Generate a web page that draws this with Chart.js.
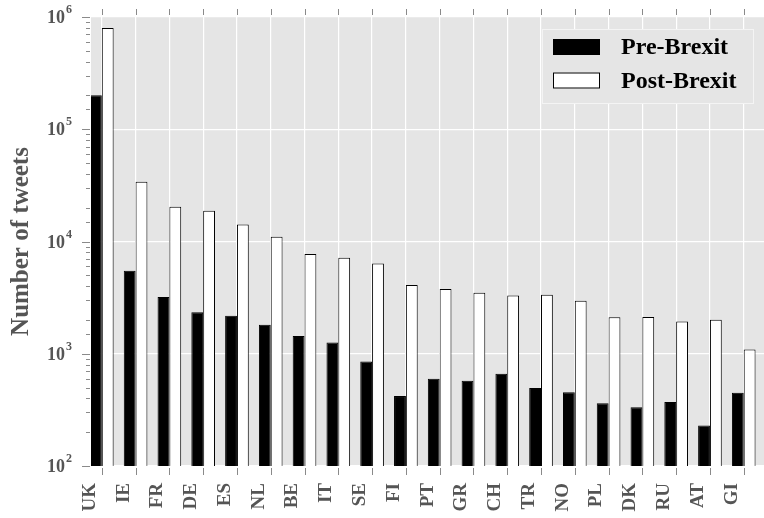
<!DOCTYPE html>
<html>
<head>
<meta charset="utf-8">
<script src="https://cdn.jsdelivr.net/npm/chart.js@4/dist/chart.umd.min.js"></script>
<style>
  html, body { margin: 0; padding: 0; background: #ffffff; }
  #wrap { width: 764px; height: 518px; }
</style>
</head>
<body>
<div id="wrap"><canvas id="chart" width="764" height="518"></canvas></div>
<script>
// Tweets per country, before and after the Brexit referendum
const countries = ['UK', 'IE', 'FR', 'DE', 'ES', 'NL', 'BE', 'IT', 'SE', 'FI',
                   'PT', 'GR', 'CH', 'TR', 'NO', 'PL', 'DK', 'RU', 'AT', 'GI'];
const preBrexit = [201000, 5500, 3200, 2340, 2180, 1810, 1440, 1260, 855, 420,
                   600, 575, 664, 495, 453, 362, 333, 372, 230, 450];
const postBrexit = [800000, 34000, 20400, 18800, 14200, 11000, 7720, 7160, 6380, 4090,
                    3770, 3490, 3310, 3350, 2960, 2110, 2120, 1940, 2010, 1090];
const seriesLabels = ['Pre-Brexit', 'Post-Brexit'];
const yMin = 100;
const yMax = 1000000;

const SERIF = '"Liberation Serif", "Times New Roman", serif';

function isPowerOfTen(v) {
  const l = Math.log10(v);
  return Math.abs(l - Math.round(l)) < 1e-9;
}

// grey panel behind the bars
const panelBackground = {
  id: 'panelBackground',
  beforeDraw(chart) {
    const { ctx, chartArea: a } = chart;
    ctx.save();
    ctx.fillStyle = '#e5e5e5';
    ctx.fillRect(a.left, a.top, a.right - a.left, a.bottom - a.top);
    ctx.restore();
  }
};

// short outward tick marks (major/minor on the log axis, top and bottom on the x axis)
// and the 10^n labels with a raised exponent
const tickMarks = {
  id: 'tickMarks',
  afterDraw(chart) {
    const { ctx, chartArea: a, scales: { x, y } } = chart;
    ctx.save();
    ctx.strokeStyle = '#8a8a8a';
    ctx.lineWidth = 1;
    ctx.beginPath();
    y.ticks.forEach(t => {
      const py = Math.round(y.getPixelForValue(t.value)) + 0.5;
      const len = isPowerOfTen(t.value) ? 8 : 4;
      ctx.moveTo(a.left - 1 - len, py);
      ctx.lineTo(a.left - 1, py);
    });
    x.ticks.forEach(t => {
      const px = Math.round(x.getPixelForValue(t.value)) + 0.5;
      ctx.moveTo(px, a.top - 8);
      ctx.lineTo(px, a.top - 2);
      ctx.moveTo(px, a.bottom + 2);
      ctx.lineTo(px, a.bottom + 9);
    });
    ctx.stroke();

    ctx.fillStyle = '#555555';
    ctx.textAlign = 'right';
    ctx.textBaseline = 'alphabetic';
    const right = a.left - 19;
    y.ticks.filter(t => isPowerOfTen(t.value)).forEach(t => {
      const py = y.getPixelForValue(t.value);
      const exp = String(Math.round(Math.log10(t.value)));
      ctx.font = 'bold 12px ' + SERIF;
      const ew = ctx.measureText(exp).width;
      ctx.fillText(exp, right, py - 4);
      ctx.font = 'bold 18px ' + SERIF;
      ctx.fillText('10', right - ew - 1, py + 6);
    });
    ctx.restore();
  }
};

// boxed legend in the upper right corner of the panel
const boxedLegend = {
  id: 'boxedLegend',
  afterDraw(chart) {
    const { ctx, chartArea: a } = chart;
    const w = 211, h = 74;
    const left = a.right - 11 - w;
    const top = a.top + 12;
    ctx.save();
    ctx.fillStyle = '#e5e5e5';
    ctx.fillRect(left, top, w, h);
    ctx.strokeStyle = '#f4f4f4';
    ctx.lineWidth = 1;
    ctx.strokeRect(left + 0.5, top + 0.5, w, h);
    ctx.font = 'bold 24px ' + SERIF;
    ctx.textBaseline = 'middle';
    ctx.textAlign = 'left';
    const rows = [top + 18, top + 51.5];
    chart.data.datasets.forEach((ds, i) => {
      const cy = rows[i];
      ctx.fillStyle = ds.backgroundColor;
      ctx.fillRect(left + 11, cy - 8, 47, 16);
      ctx.strokeStyle = '#000000';
      ctx.strokeRect(left + 11.5, cy - 7.5, 46, 15);
      ctx.fillStyle = '#000000';
      ctx.fillText(ds.label, left + 79, cy + 1);
    });
    ctx.restore();
  }
};

const ctx = document.getElementById('chart').getContext('2d');
new Chart(ctx, {
  type: 'bar',
  data: {
    datasets: [
      {
        label: seriesLabels[0],
        data: preBrexit.map((v, i) => ({ x: i, y: v })),
        backgroundColor: '#000000',
        borderColor: '#000000',
        borderWidth: 1,
        clip: 0
      },
      {
        label: seriesLabels[1],
        data: postBrexit.map((v, i) => ({ x: i, y: v })),
        backgroundColor: '#ffffff',
        borderColor: '#000000',
        borderWidth: 1,
        clip: 0
      }
    ]
  },
  options: {
    responsive: false,
    animation: false,
    devicePixelRatio: 1,
    categoryPercentage: 0.7,
    barPercentage: 1.0,
    layout: { padding: { top: 17, left: 0, right: 0, bottom: 0 } },
    plugins: {
      legend: { display: false },
      tooltip: { enabled: false }
    },
    scales: {
      x: {
        type: 'linear',
        offset: false,
        bounds: 'data',
        min: -0.32,
        max: 19.6,
        afterBuildTicks(scale) {
          scale.ticks = countries.map((_, i) => ({ value: i }));
        },
        afterFit(scale) {
          scale.height = 52;
          scale.paddingLeft = 0;
          scale.paddingRight = 0;
        },
        border: { display: false },
        grid: {
          offset: false,
          color: '#ffffff',
          lineWidth: 1.2,
          drawTicks: false
        },
        ticks: {
          autoSkip: false,
          minRotation: 90,
          maxRotation: 90,
          padding: 17,
          labelOffset: -12,
          color: '#555555',
          font: { family: SERIF, size: 19, weight: 'bold' },
          callback: (v) => countries[v] ?? ''
        }
      },
      y: {
        type: 'logarithmic',
        min: yMin,
        max: yMax,
        afterFit(scale) {
          scale.width = 91;
          scale.paddingTop = 0;
          scale.paddingBottom = 0;
        },
        border: { display: false },
        grid: {
          color: (c) => (c.tick && isPowerOfTen(c.tick.value)) ? '#ffffff' : 'rgba(0,0,0,0)',
          lineWidth: 1.2,
          drawTicks: false
        },
        ticks: {
          autoSkip: false,
          display: false
        },
        title: {
          display: true,
          text: 'Number of tweets',
          color: '#555555',
          font: { family: SERIF, size: 25, weight: 'bold' },
          padding: { top: 7, bottom: 0 }
        }
      }
    }
  },
  plugins: [panelBackground, tickMarks, boxedLegend]
});
</script>
</body>
</html>
